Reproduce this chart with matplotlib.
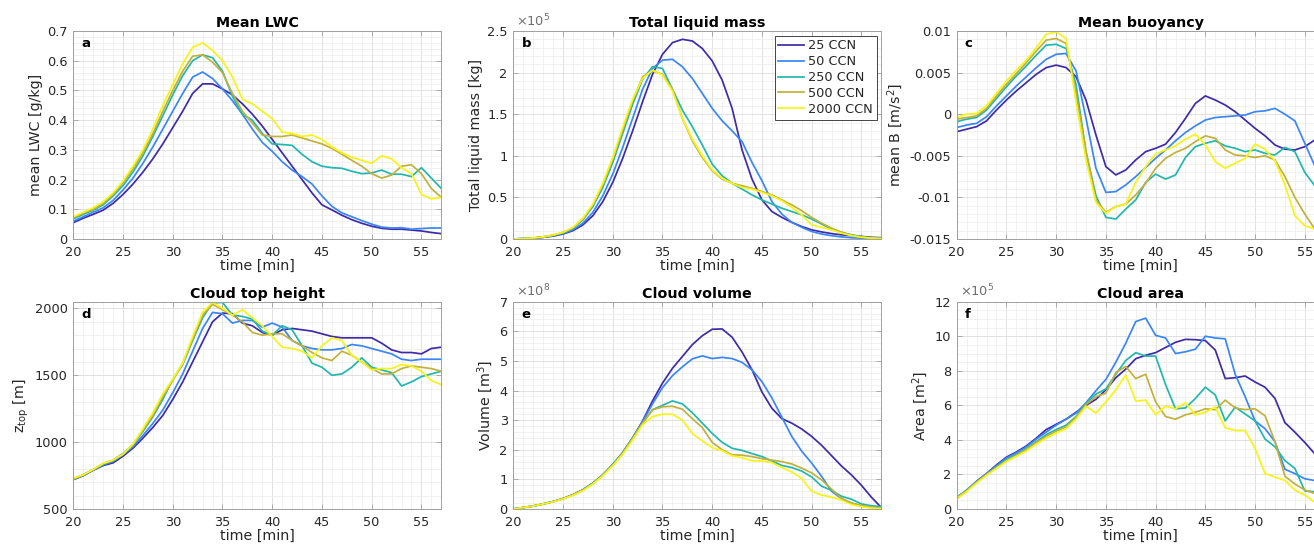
import numpy as np
import matplotlib
matplotlib.use('Agg')
import matplotlib.pyplot as plt
from matplotlib.ticker import MultipleLocator, AutoMinorLocator, FuncFormatter
plt.rcParams['font.family'] = 'DejaVu Sans'

# time axis, one output per minute
time = np.arange(20, 58)
labels = ['25 CCN', '50 CCN', '250 CCN', '500 CCN', '2000 CCN']
colors = ['#3f2aa8', '#3a86f6', '#21b7af', '#c1b13a', '#f7f414']

# mean liquid water content [g/kg]
lwc_25 = [0.055, 0.07, 0.083, 0.097, 0.12, 0.15, 0.185, 0.225, 0.27, 0.32, 0.375, 0.43, 0.49, 0.522, 0.522,
          0.505, 0.485, 0.455, 0.42, 0.38, 0.335, 0.29, 0.245, 0.2, 0.155, 0.115, 0.098, 0.08, 0.065, 0.053,
          0.043, 0.036, 0.033, 0.033, 0.03, 0.027, 0.022, 0.018]
lwc_50 = [0.06, 0.075, 0.09, 0.105, 0.13, 0.165, 0.205, 0.255, 0.31, 0.37, 0.43, 0.49, 0.545, 0.562, 0.54,
          0.505, 0.465, 0.42, 0.37, 0.325, 0.295, 0.26, 0.232, 0.21, 0.185, 0.145, 0.11, 0.088, 0.075, 0.062,
          0.05, 0.04, 0.037, 0.038, 0.033, 0.035, 0.037, 0.037]
lwc_250 = [0.068, 0.083, 0.097, 0.115, 0.145, 0.18, 0.225, 0.28, 0.345, 0.415, 0.485, 0.55, 0.6, 0.62, 0.61,
           0.565, 0.48, 0.42, 0.4, 0.355, 0.32, 0.318, 0.315, 0.285, 0.26, 0.245, 0.24, 0.238, 0.228, 0.22,
           0.222, 0.232, 0.218, 0.218, 0.21, 0.24, 0.205, 0.17]
lwc_500 = [0.072, 0.087, 0.1, 0.12, 0.15, 0.19, 0.235, 0.29, 0.355, 0.43, 0.5, 0.565, 0.615, 0.62, 0.595,
           0.56, 0.49, 0.43, 0.39, 0.35, 0.345, 0.345, 0.35, 0.34, 0.33, 0.32, 0.305, 0.285, 0.265, 0.245,
           0.22, 0.205, 0.215, 0.245, 0.25, 0.22, 0.17, 0.14]
lwc_2000 = [0.075, 0.09, 0.105, 0.125, 0.155, 0.195, 0.245, 0.3, 0.37, 0.45, 0.52, 0.59, 0.645, 0.66, 0.635,
            0.6, 0.545, 0.47, 0.455, 0.43, 0.405, 0.36, 0.355, 0.345, 0.35, 0.335, 0.31, 0.29, 0.275, 0.265,
            0.255, 0.28, 0.27, 0.24, 0.22, 0.15, 0.135, 0.14]

# total liquid mass [1e5 kg]
mass_25 = [0.0, 0.005, 0.01, 0.02, 0.035, 0.06, 0.1, 0.17, 0.28, 0.45, 0.68, 0.97, 1.3, 1.65, 1.98, 2.22,
           2.36, 2.4, 2.38, 2.29, 2.14, 1.91, 1.57, 1.07, 0.72, 0.47, 0.33, 0.26, 0.2, 0.15, 0.11, 0.085,
           0.065, 0.05, 0.04, 0.03, 0.02, 0.015]
mass_50 = [0.0, 0.005, 0.01, 0.02, 0.04, 0.065, 0.11, 0.19, 0.32, 0.52, 0.78, 1.1, 1.45, 1.8, 2.05, 2.15,
           2.16, 2.07, 1.93, 1.75, 1.57, 1.42, 1.3, 1.17, 0.92, 0.7, 0.45, 0.3, 0.2, 0.14, 0.09, 0.06, 0.04,
           0.025, 0.015, 0.01, 0.005, 0.0]
mass_250 = [0.0, 0.005, 0.012, 0.025, 0.045, 0.075, 0.13, 0.23, 0.39, 0.62, 0.92, 1.27, 1.62, 1.92, 2.07,
            2.05, 1.8, 1.55, 1.35, 1.13, 0.9, 0.76, 0.67, 0.6, 0.53, 0.47, 0.42, 0.37, 0.33, 0.29, 0.24,
            0.18, 0.12, 0.08, 0.05, 0.03, 0.015, 0.01]
mass_500 = [0.0, 0.005, 0.012, 0.025, 0.047, 0.078, 0.135, 0.24, 0.41, 0.65, 0.96, 1.31, 1.66, 1.95, 2.02,
            1.98, 1.8, 1.45, 1.18, 0.98, 0.82, 0.72, 0.67, 0.64, 0.61, 0.57, 0.53, 0.47, 0.41, 0.34, 0.26,
            0.19, 0.13, 0.08, 0.045, 0.025, 0.012, 0.005]
mass_2000 = [0.0, 0.005, 0.012, 0.025, 0.048, 0.08, 0.14, 0.25, 0.42, 0.67, 0.98, 1.34, 1.68, 1.93, 2.03,
             1.97, 1.78, 1.45, 1.2, 1.0, 0.83, 0.73, 0.67, 0.62, 0.6, 0.56, 0.52, 0.46, 0.38, 0.29, 0.17,
             0.14, 0.11, 0.07, 0.04, 0.02, 0.01, 0.005]

# mean buoyancy [m/s^2]
buoy_25 = [-0.0021, -0.0018, -0.0015, -0.0008, 0.0005, 0.0017, 0.0028, 0.0038, 0.0048, 0.0056, 0.0059,
           0.0056, 0.0045, 0.0017, -0.0025, -0.0063, -0.0073, -0.0067, -0.0055, -0.0045, -0.0041, -0.0036,
           -0.0022, -0.0005, 0.0013, 0.0022, 0.0017, 0.0011, 0.0003, -0.0007, -0.0017, -0.0026, -0.0037,
           -0.0042, -0.0043, -0.0039, -0.0031, -0.0025]
buoy_50 = [-0.0016, -0.0013, -0.0011, -0.0003, 0.001, 0.0022, 0.0034, 0.0045, 0.0056, 0.0066, 0.0072,
           0.0073, 0.0052, -0.0005, -0.0065, -0.0094, -0.0093, -0.0085, -0.0075, -0.0064, -0.0053, -0.0043,
           -0.0032, -0.0022, -0.0014, -0.0007, -0.0004, -0.0003, -0.0002, -0.0001, 0.0003, 0.0004, 0.0007,
           0.0, -0.0008, -0.0035, -0.0062, -0.0085]
buoy_250 = [-0.0009, -0.0006, -0.0004, 0.0005, 0.0019, 0.0033, 0.0046, 0.0058, 0.0071, 0.0083, 0.0084,
            0.0079, 0.0035, -0.0045, -0.0098, -0.0124, -0.0126, -0.0114, -0.0103, -0.0082, -0.0072, -0.0078,
            -0.0073, -0.0052, -0.0039, -0.0035, -0.0032, -0.0038, -0.0041, -0.0045, -0.0043, -0.0047,
            -0.0049, -0.004, -0.0045, -0.007, -0.0086, -0.01]
buoy_500 = [-0.0006, -0.0004, -0.0002, 0.0007, 0.0022, 0.0036, 0.0049, 0.0062, 0.0076, 0.0089, 0.0091,
            0.0085, 0.0025, -0.0045, -0.0103, -0.0118, -0.0111, -0.0108, -0.0097, -0.0083, -0.0065, -0.0053,
            -0.0046, -0.0041, -0.0033, -0.0026, -0.0029, -0.0043, -0.0049, -0.005, -0.0052, -0.005, -0.0055,
            -0.0075, -0.01, -0.012, -0.0138, -0.015]
buoy_2000 = [-0.0004, 0.0, 0.0001, 0.001, 0.0025, 0.004, 0.0053, 0.0065, 0.008, 0.0096, 0.0099, 0.0091,
             0.0015, -0.0055, -0.0106, -0.0119, -0.0111, -0.0108, -0.0082, -0.0063, -0.0048, -0.0043,
             -0.0038, -0.003, -0.0024, -0.0037, -0.0057, -0.0065, -0.0059, -0.0053, -0.0036, -0.0042,
             -0.0056, -0.0085, -0.0122, -0.0134, -0.0138, -0.014]

# cloud top height [m]
ztop_25 = [720, 750, 790, 825, 845, 895, 955, 1030, 1110, 1200, 1320, 1450, 1600, 1750, 1900, 1965, 1960,
           1890, 1870, 1820, 1800, 1840, 1850, 1840, 1830, 1810, 1790, 1780, 1780, 1780, 1780, 1740, 1690,
           1670, 1670, 1660, 1700, 1710]
ztop_50 = [720, 750, 790, 830, 855, 905, 965, 1050, 1140, 1240, 1370, 1510, 1680, 1850, 1970, 1960, 1890,
           1910, 1910, 1860, 1890, 1860, 1760, 1720, 1700, 1690, 1690, 1700, 1730, 1720, 1700, 1680, 1660,
           1620, 1610, 1620, 1620, 1620]
ztop_250 = [725, 755, 795, 835, 865, 915, 980, 1080, 1190, 1320, 1470, 1580, 1760, 1930, 2040, 2045, 1950,
            1940, 1920, 1830, 1800, 1870, 1840, 1720, 1590, 1560, 1500, 1510, 1560, 1630, 1560, 1540, 1520,
            1420, 1450, 1490, 1510, 1530]
ztop_500 = [725, 755, 795, 840, 865, 910, 980, 1090, 1200, 1340, 1460, 1590, 1770, 1950, 2030, 1990, 1950,
            1900, 1820, 1800, 1810, 1810, 1760, 1720, 1670, 1630, 1610, 1680, 1650, 1600, 1550, 1510, 1510,
            1550, 1570, 1560, 1550, 1530]
ztop_2000 = [730, 755, 795, 840, 865, 910, 985, 1100, 1220, 1360, 1470, 1590, 1790, 1970, 2045, 2000, 1950,
             1990, 1930, 1870, 1790, 1710, 1700, 1680, 1630, 1720, 1780, 1760, 1650, 1600, 1540, 1550, 1550,
             1580, 1570, 1530, 1460, 1430]

# cloud volume [1e8 m^3]
vol_25 = [0.0, 0.05, 0.1, 0.17, 0.25, 0.35, 0.48, 0.65, 0.87, 1.15, 1.5, 1.9, 2.4, 2.97, 3.65, 4.25, 4.75,
          5.15, 5.55, 5.85, 6.07, 6.08, 5.8, 5.3, 4.7, 3.95, 3.4, 3.05, 2.9, 2.7, 2.45, 2.15, 1.8, 1.45, 1.15,
          0.8, 0.4, 0.05]
vol_50 = [0.0, 0.05, 0.1, 0.17, 0.25, 0.35, 0.48, 0.65, 0.87, 1.15, 1.5, 1.9, 2.4, 2.95, 3.55, 4.1, 4.5, 4.8,
          5.07, 5.17, 5.08, 5.12, 5.08, 4.95, 4.7, 4.3, 3.75, 3.1, 2.45, 1.95, 1.55, 1.1, 0.6, 0.35, 0.2, 0.1,
          0.05, 0.03]
vol_250 = [0.0, 0.05, 0.1, 0.17, 0.25, 0.35, 0.48, 0.65, 0.87, 1.15, 1.5, 1.9, 2.4, 2.9, 3.35, 3.5, 3.65,
           3.55, 3.25, 2.9, 2.55, 2.25, 2.05, 1.98, 1.87, 1.77, 1.62, 1.47, 1.4, 1.28, 1.08, 0.77, 0.63, 0.43,
           0.33, 0.17, 0.11, 0.08]
vol_500 = [0.0, 0.05, 0.1, 0.17, 0.25, 0.35, 0.48, 0.64, 0.86, 1.14, 1.48, 1.88, 2.38, 2.9, 3.35, 3.45, 3.47,
           3.37, 3.05, 2.75, 2.25, 2.0, 1.83, 1.82, 1.77, 1.7, 1.65, 1.6, 1.52, 1.38, 1.22, 0.98, 0.67, 0.35,
           0.2, 0.12, 0.06, 0.03]
vol_2000 = [0.0, 0.05, 0.1, 0.17, 0.24, 0.34, 0.46, 0.62, 0.84, 1.12, 1.46, 1.85, 2.33, 2.85, 3.12, 3.2, 3.2,
            3.0, 2.55, 2.3, 2.07, 1.97, 1.8, 1.73, 1.63, 1.62, 1.57, 1.4, 1.25, 1.03, 0.6, 0.47, 0.4, 0.3,
            0.15, 0.08, 0.03, 0.01]

# cloud area [1e5 m^2]
area_25 = [0.6, 1.05, 1.6, 2.05, 2.55, 3.0, 3.3, 3.65, 4.1, 4.6, 4.9, 5.2, 5.6, 6.0, 6.35, 6.9, 7.6, 8.1,
           8.7, 8.9, 9.05, 9.35, 9.65, 9.82, 9.8, 9.75, 9.2, 7.55, 7.6, 7.7, 7.35, 7.05, 6.4, 5.0, 4.45, 3.85,
           3.2, 2.8]
area_50 = [0.65, 1.1, 1.6, 2.05, 2.5, 2.95, 3.25, 3.6, 4.05, 4.45, 4.85, 5.2, 5.55, 6.15, 6.85, 7.5, 8.5,
           9.6, 10.85, 11.05, 10.05, 9.9, 9.0, 9.1, 9.25, 10.0, 9.9, 9.85, 7.8, 6.5, 5.1, 4.65, 3.9, 2.3, 2.05,
           1.75, 1.65, 1.6]
area_250 = [0.7, 1.05, 1.55, 2.0, 2.45, 2.85, 3.15, 3.5, 3.9, 4.3, 4.6, 4.85, 5.35, 6.1, 6.65, 6.95, 7.8,
            8.6, 9.05, 8.85, 8.85, 7.2, 5.8, 5.85, 6.4, 7.05, 6.6, 5.1, 5.9, 5.5, 5.1, 4.05, 3.6, 2.8, 2.35,
            1.05, 1.0, 0.85]
area_500 = [0.65, 1.05, 1.55, 2.0, 2.4, 2.8, 3.1, 3.45, 3.85, 4.2, 4.5, 4.75, 5.3, 6.05, 6.5, 6.7, 7.9,
            8.25, 7.55, 7.8, 6.2, 5.35, 5.2, 5.45, 5.6, 5.8, 5.75, 6.3, 5.85, 5.75, 5.8, 5.4, 3.9, 1.9, 1.45,
            1.1, 0.9, 0.8]
area_2000 = [0.6, 1.0, 1.5, 1.95, 2.35, 2.75, 3.05, 3.35, 3.75, 4.1, 4.4, 4.65, 5.2, 5.95, 5.55, 6.2, 6.9,
             7.75, 6.25, 6.3, 5.45, 5.95, 5.8, 6.15, 5.45, 5.6, 5.9, 4.7, 4.55, 4.55, 3.5, 2.05, 1.85, 1.65,
             1.1, 0.8, 0.4, 0.2]

panels = [
    ('Mean LWC', 'mean LWC [g/kg]', 'a', [lwc_25, lwc_50, lwc_250, lwc_500, lwc_2000], (0, 0.7), 0.1, None),
    ('Total liquid mass', 'Total liquid mass [kg]', 'b',
     [mass_25, mass_50, mass_250, mass_500, mass_2000], (0, 2.5), 0.5, 5),
    ('Mean buoyancy', r'mean B [m/s$^{2}$]', 'c',
     [buoy_25, buoy_50, buoy_250, buoy_500, buoy_2000], (-0.015, 0.01), 0.005, None),
    ('Cloud top height', r'z$_{\rm top}$ [m]', 'd',
     [ztop_25, ztop_50, ztop_250, ztop_500, ztop_2000], (500, 2050), 500, None),
    ('Cloud volume', r'Volume [m$^{3}$]', 'e', [vol_25, vol_50, vol_250, vol_500, vol_2000], (0, 7), 1, 8),
    ('Cloud area', r'Area [m$^{2}$]', 'f', [area_25, area_50, area_250, area_500, area_2000], (0, 12), 2, 5),
]

W, H = 1314, 546
fig = plt.figure(figsize=(W / 100, H / 100), dpi=100)
lefts = [73.3, 513.3, 956.7]
rows = [(31, 239), (301.7, 509)]
axw = 368

txt = '#262626'
edge = '#a0a0a0'
fmt = FuncFormatter(lambda v, p: '{:g}'.format(round(v, 6)))

for k, (title, ylab, letter, series, ylim, step, expo) in enumerate(panels):
    top, bot = rows[k // 3]
    x0 = lefts[k % 3]
    ax = fig.add_axes([x0 / W, 1 - bot / H, axw / W, (bot - top) / H])
    for y, c, lab in zip(series, colors, labels):
        ax.plot(time, y, color=c, lw=1.25, label=lab)
    ax.set_xlim(20, 57)
    ax.set_ylim(*ylim)
    ax.xaxis.set_major_locator(MultipleLocator(5))
    ax.xaxis.set_minor_locator(MultipleLocator(1))
    ax.yaxis.set_major_locator(MultipleLocator(step))
    ax.yaxis.set_minor_locator(AutoMinorLocator(4 if step == 2 else 5))
    ax.yaxis.set_major_formatter(fmt)
    ax.grid(True, which='major', color='#dcdcdc', lw=0.6)
    ax.grid(True, which='minor', color='#ececec', lw=0.5)
    ax.set_axisbelow(True)
    ax.tick_params(which='both', direction='in', top=True, right=True, colors=edge,
                   labelcolor=txt, labelsize=9.3)
    ax.tick_params(axis='x', pad=5)
    ax.tick_params(axis='y', pad=4)
    ax.tick_params(which='major', length=3.5, width=0.6)
    ax.tick_params(which='minor', length=0)
    for s in ax.spines.values():
        s.set_color(edge)
        s.set_linewidth(0.7)
    ax.set_title(title, fontsize=10.3, fontweight='bold', color='black', pad=3)
    ax.set_xlabel('time [min]', fontsize=10.3, color=txt, labelpad=0)
    ax.set_ylabel(ylab, fontsize=10.3, color=txt, labelpad=3)
    ax.text(0.022, 0.94, letter, transform=ax.transAxes, fontsize=9.5, fontweight='bold',
            ha='left', va='center')
    if expo is not None:
        ax.text(0.008, 1.01, r'$\times10^{%d}$' % expo, transform=ax.transAxes, fontsize=9.3,
                color='#6e6e6e', ha='left', va='bottom')
    if letter == 'b':
        leg = ax.legend(loc='upper right', fontsize=9.3, labelspacing=0.22, handlelength=2.0,
                        handletextpad=0.3, borderpad=0.3, borderaxespad=0.35, fancybox=False,
                        framealpha=1)
        leg.get_frame().set_edgecolor('#262626')
        leg.get_frame().set_linewidth(0.6)
        for t in leg.get_texts():
            t.set_color(txt)

fig.savefig('out.png', dpi=100)
